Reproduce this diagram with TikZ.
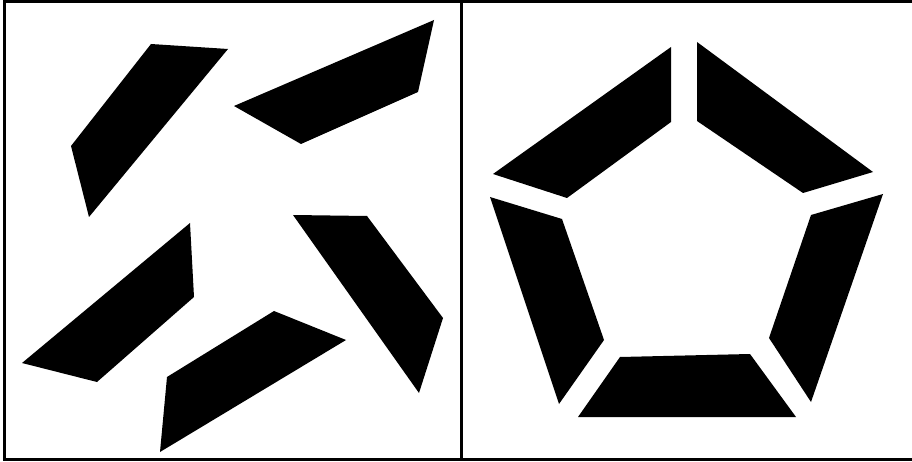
\documentclass[tikz,border=0pt]{standalone}
\usepackage{tikz}
\tikzset{
    piece/.style={fill=black, draw=none},
    frameline/.style={line width=2pt, line cap=rect}
}

\begin{document}
\begin{tikzpicture}[x=0.02cm, y=-0.02cm]
    \useasboundingbox (0,0) rectangle (912,462);
    % Frame of the two panels
    \draw[frameline] (912,1.5) -- (4.5,1.5) -- (4.5,459.5) -- (912,459.5);
    \draw[frameline] (461.3,1.5) -- (461.3,459.5);
    % Left panel: scattered pieces
    \fill[piece] (151,44) -- (228,49) -- (89,217) -- (71,146) -- cycle;
    \fill[piece] (434,20) -- (418,92) -- (301,144) -- (234,106) -- cycle;
    \fill[piece] (190,223) -- (194,297) -- (97,382) -- (22,363) -- cycle;
    \fill[piece] (274,311) -- (346,340) -- (160,452) -- (167,377) -- cycle;
    \fill[piece] (293,215) -- (367,216) -- (443,318) -- (419,393) -- cycle;
    % Right panel: pieces put together as a pentagon
    \fill[piece] (671,47) -- (671,122) -- (567,198) -- (493,174) -- cycle;
    \fill[piece] (697,42) -- (873,172) -- (803,193) -- (697,121) -- cycle;
    \fill[piece] (490,197) -- (562,219) -- (604,340) -- (559,404) -- cycle;
    \fill[piece] (883,194) -- (811,215) -- (769,338) -- (811,402) -- cycle;
    \fill[piece] (620,357) -- (750,354) -- (796,417) -- (578,417) -- cycle;
\end{tikzpicture}
\end{document}
